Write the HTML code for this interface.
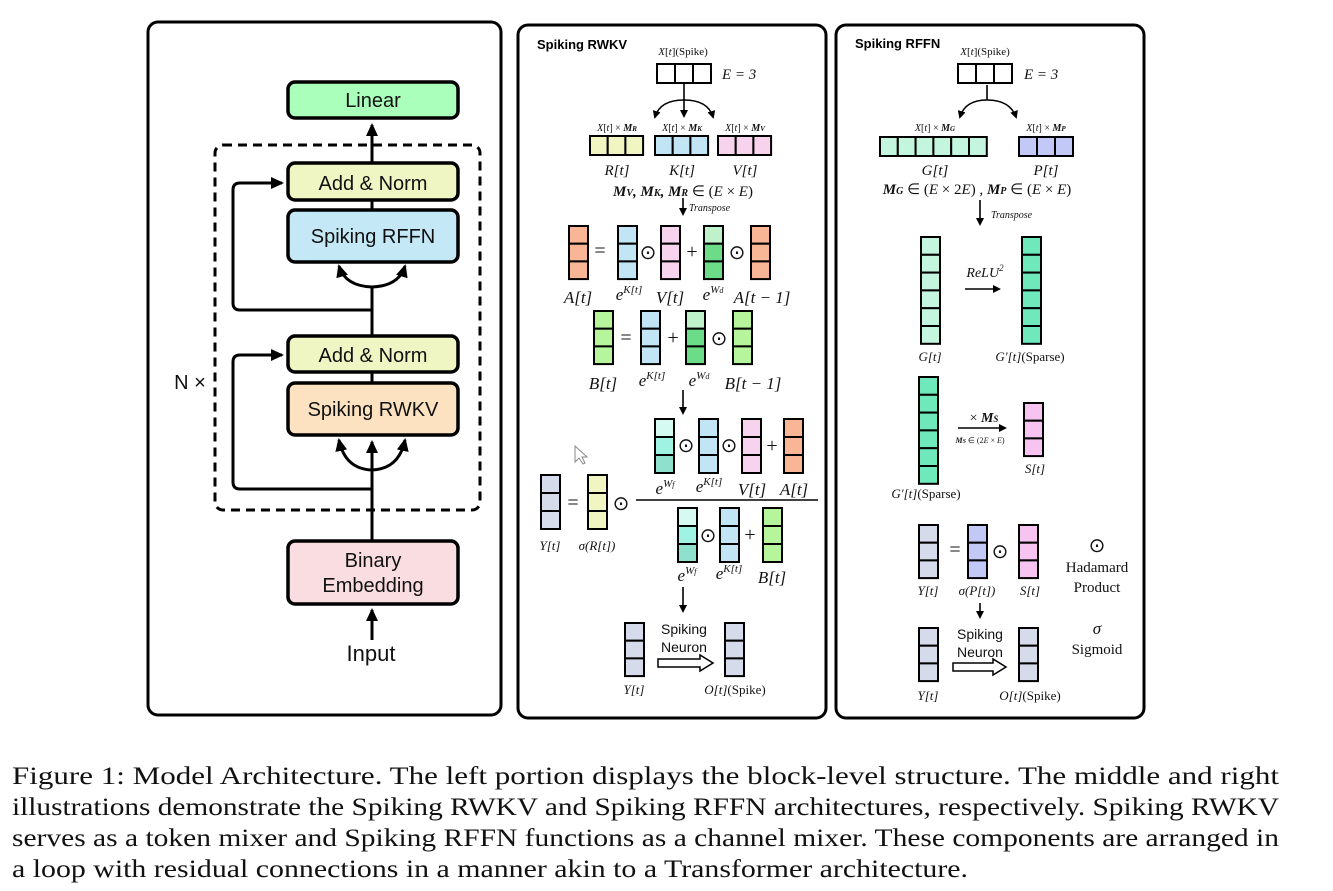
<!DOCTYPE html>
<html><head><meta charset="utf-8"><style>
html,body{margin:0;padding:0;background:#fff;}
svg{display:block;}
.s{font-family:"Liberation Sans",sans-serif;}
.m{font-family:"Liberation Serif",serif;font-style:italic;}
.r{font-family:"Liberation Serif",serif;}
</style></head><body>
<svg id="sv" width="1333" height="891" viewBox="0 0 1333 891" xmlns="http://www.w3.org/2000/svg">
<defs>
<marker id="ah" markerWidth="8" markerHeight="8" refX="6" refY="4" orient="auto" markerUnits="userSpaceOnUse"><path d="M0,0 L8,4 L0,8 z" fill="#000"/></marker>
<marker id="ab" markerWidth="14" markerHeight="14" refX="11" refY="7" orient="auto" markerUnits="userSpaceOnUse"><path d="M0,1 L13,7 L0,13 z" fill="#000"/></marker>
</defs>
<rect x="148" y="22" width="353" height="693" rx="10" fill="none" stroke="#000" stroke-width="3"/>
<rect x="518" y="25" width="308" height="693" rx="10" fill="none" stroke="#000" stroke-width="3"/>
<rect x="836" y="25" width="308" height="693" rx="10" fill="none" stroke="#000" stroke-width="3"/>

<rect x="215" y="145" width="265" height="365" rx="8" fill="none" stroke="#000" stroke-width="3" stroke-dasharray="9,6"/>
<g stroke="#000" stroke-width="3" fill="none">
<line x1="372" y1="163" x2="372" y2="125" marker-end="url(#ab)"/>
<line x1="372" y1="200" x2="372" y2="210"/>
<line x1="372" y1="336" x2="372" y2="287"/>
<line x1="372" y1="372" x2="372" y2="383"/>
<line x1="372" y1="541" x2="372" y2="442" marker-end="url(#ab)"/>
<line x1="372" y1="640" x2="372" y2="610" marker-end="url(#ab)"/>
<path d="M372,287 Q345,286 339,266" marker-end="url(#ab)"/>
<path d="M372,287 Q399,286 405,266" marker-end="url(#ab)"/>
<path d="M372,470 Q345,469 339,440" marker-end="url(#ab)"/>
<path d="M372,470 Q399,469 405,440" marker-end="url(#ab)"/>
<path d="M372,310 L240,310 Q233,310 233,303 L233,190 Q233,183 240,183 L282,183" marker-end="url(#ab)"/>
<path d="M372,489 L240,489 Q233,489 233,482 L233,362 Q233,355 240,355 L282,355" marker-end="url(#ab)"/>
</g>
<g stroke="#000" stroke-width="3.5">
<rect x="288" y="82" width="170" height="36" rx="7" fill="#aaffbb"/>
<rect x="288" y="163" width="170" height="37" rx="7" fill="#f0f5c4"/>
<rect x="288" y="210" width="170" height="52" rx="7" fill="#c4e8f6"/>
<rect x="288" y="336" width="170" height="36" rx="7" fill="#f0f5c4"/>
<rect x="288" y="383" width="170" height="52" rx="7" fill="#fde2c2"/>
<rect x="288" y="541" width="170" height="63" rx="7" fill="#f9dde0"/>
</g>
<g class="s" font-size="20" text-anchor="middle" fill="#111">
<text x="373" y="107">Linear</text>
<text x="373" y="190">Add &amp; Norm</text>
<text x="373" y="243">Spiking RFFN</text>
<text x="373" y="362">Add &amp; Norm</text>
<text x="373" y="416">Spiking RWKV</text>
<text x="373" y="567">Binary</text>
<text x="373" y="592">Embedding</text>
<text x="371" y="661" font-size="22">Input</text>
<text x="190" y="389">N ×</text>
</g>

<g id="cells"></g>

<g stroke="#000" stroke-width="1.6" fill="none">
<line x1="684" y1="84" x2="684" y2="116" marker-end="url(#ah)"/>
<path d="M684,100 Q660,100 655,117" marker-end="url(#ah)"/>
<path d="M684,100 Q708,100 713,117" marker-end="url(#ah)"/>
<line x1="683" y1="198" x2="683" y2="214" marker-end="url(#ah)"/>
<line x1="683" y1="390" x2="683" y2="413" marker-end="url(#ah)"/>
<line x1="636" y1="500" x2="818" y2="500"/>
<line x1="683" y1="587" x2="683" y2="611" marker-end="url(#ah)"/>
<path d="M658,659 L700,659 L700,655 L713,663 L700,671 L700,667 L658,667 z" stroke-width="1.5"/>
<path d="M987,85 L987,100"/>
<path d="M987,100 Q965,100 960,117" marker-end="url(#ah)"/>
<path d="M987,100 Q1010,100 1016,117" marker-end="url(#ah)"/>
<line x1="980" y1="200" x2="980" y2="224" marker-end="url(#ah)"/>
<line x1="965" y1="289" x2="999" y2="289" marker-end="url(#ah)"/>
<line x1="958" y1="428" x2="1005" y2="428" marker-end="url(#ah)"/>
<line x1="980" y1="603" x2="980" y2="617" marker-end="url(#ah)"/>
<path d="M953,663 L993,663 L993,659 L1006,667 L993,675 L993,671 L953,671 z" stroke-width="1.5"/>
</g>
<path d="M575,446 L575,462 L579,458 L583,464 L585,463 L582,457 L587,457 z" fill="#fff" stroke="#888" stroke-width="1"/>

<g class="s" font-weight="bold" font-size="13"><text x="537" y="49">Spiking RWKV</text><text x="855" y="48">Spiking RFFN</text></g>

<g fill="#111">
<text class="r" font-size="11" x="683" y="55" text-anchor="middle"><tspan class="m">X</tspan>[<tspan class="m">t</tspan>](Spike)</text>
<text class="m" font-size="15" x="722" y="79">E = 3</text>
<g class="r" font-size="10" text-anchor="middle">
<text x="617" y="131"><tspan class="m">X</tspan>[<tspan class="m">t</tspan>] × <tspan font-weight="bold" class="m">M<tspan font-size="7">R</tspan></tspan></text>
<text x="682" y="131"><tspan class="m">X</tspan>[<tspan class="m">t</tspan>] × <tspan font-weight="bold" class="m">M<tspan font-size="7">K</tspan></tspan></text>
<text x="745" y="131"><tspan class="m">X</tspan>[<tspan class="m">t</tspan>] × <tspan font-weight="bold" class="m">M<tspan font-size="7">V</tspan></tspan></text>
</g>
<g class="m" font-size="15" text-anchor="middle">
<text x="617" y="175">R[t]</text><text x="682" y="175">K[t]</text><text x="745" y="175">V[t]</text>
</g>
<text class="r" font-size="15" x="683" y="196" text-anchor="middle"><tspan class="m" font-weight="bold">M<tspan font-size="10">V</tspan>, M<tspan font-size="10">K</tspan>, M<tspan font-size="10">R</tspan></tspan> ∈ (<tspan class="m">E</tspan>  × <tspan class="m">E</tspan>)</text>
<text class="m" font-size="10" x="689" y="211">Transpose</text>
<g class="r" font-size="20" text-anchor="middle">
<text x="600" y="257">=</text><text x="648" y="259">⊙</text><text x="692" y="258">+</text><text x="737" y="259">⊙</text>
<text x="626" y="344">=</text><text x="673" y="344">+</text><text x="719" y="345">⊙</text>
<text x="686" y="452">⊙</text><text x="729" y="452">⊙</text><text x="772" y="452">+</text>
<text x="573" y="509">=</text><text x="621" y="510">⊙</text>
<text x="708" y="542">⊙</text><text x="750" y="541">+</text>
</g>
<g class="m" font-size="17" text-anchor="middle">
<text x="578" y="303">A[t]</text><text x="629" y="300">e<tspan font-size="11" dy="-7">K[t]</tspan></text><text x="670" y="303">V[t]</text><text x="713" y="300">e<tspan font-size="11" dy="-7">W<tspan font-size="8">d</tspan></tspan></text><text x="762" y="303">A[t − 1]</text>
<text x="603" y="389">B[t]</text><text x="652" y="386">e<tspan font-size="11" dy="-7">K[t]</tspan></text><text x="699" y="386">e<tspan font-size="11" dy="-7">W<tspan font-size="8">d</tspan></tspan></text><text x="753" y="389">B[t − 1]</text>
<text x="665" y="494">e<tspan font-size="11" dy="-7">W<tspan font-size="8">f</tspan></tspan></text><text x="709" y="492">e<tspan font-size="11" dy="-7">K[t]</tspan></text><text x="752" y="495">V[t]</text><text x="794" y="495">A[t]</text>
<text x="687" y="581">e<tspan font-size="11" dy="-7">W<tspan font-size="8">f</tspan></tspan></text><text x="729" y="579">e<tspan font-size="11" dy="-7">K[t]</tspan></text><text x="772" y="583">B[t]</text>
</g>
<g class="m" font-size="13" text-anchor="middle">
<text x="550" y="550">Y[t]</text><text x="597" y="550">σ(R[t])</text>
<text x="634" y="694">Y[t]</text><text x="735" y="694">O[t]<tspan class="r" font-style="normal">(Spike)</tspan></text>
</g>
<g class="s" font-size="14" text-anchor="middle"><text x="684" y="634">Spiking</text><text x="684" y="652">Neuron</text><text x="980" y="639">Spiking</text><text x="980" y="657">Neuron</text></g>

<text class="r" font-size="11" x="985" y="55" text-anchor="middle"><tspan class="m">X</tspan>[<tspan class="m">t</tspan>](Spike)</text>
<text class="m" font-size="15" x="1024" y="79">E = 3</text>
<g class="r" font-size="10" text-anchor="middle">
<text x="935" y="131"><tspan class="m">X</tspan>[<tspan class="m">t</tspan>] × <tspan font-weight="bold" class="m">M<tspan font-size="7">G</tspan></tspan></text>
<text x="1046" y="131"><tspan class="m">X</tspan>[<tspan class="m">t</tspan>] × <tspan font-weight="bold" class="m">M<tspan font-size="7">P</tspan></tspan></text>
</g>
<g class="m" font-size="15" text-anchor="middle"><text x="935" y="175">G[t]</text><text x="1046" y="175">P[t]</text></g>
<text class="r" font-size="15" x="977" y="194" text-anchor="middle"><tspan class="m" font-weight="bold">M<tspan font-size="10">G</tspan></tspan> ∈ (<tspan class="m">E</tspan>  × 2<tspan class="m">E</tspan>) , <tspan class="m" font-weight="bold">M<tspan font-size="10">P</tspan></tspan> ∈ (<tspan class="m">E</tspan>  × <tspan class="m">E</tspan>)</text>
<text class="m" font-size="10" x="991" y="218">Transpose</text>
<text class="m" font-size="14" x="985" y="277" text-anchor="middle">ReLU<tspan font-size="9" dy="-6">2</tspan></text>
<text class="r" font-size="14" x="984" y="422" text-anchor="middle">× <tspan class="m" font-weight="bold">M<tspan font-size="9">S</tspan></tspan></text>
<text class="r" font-size="8" x="980" y="443" text-anchor="middle"><tspan class="m" font-weight="bold">M<tspan font-size="6">S</tspan></tspan> ∈ (2<tspan class="m">E</tspan>  × <tspan class="m">E</tspan>)</text>
<g class="m" font-size="13" text-anchor="middle">
<text x="930" y="361">G[t]</text><text x="1030" y="361">G′[t]<tspan class="r" font-style="normal">(Sparse)</tspan></text>
<text x="926" y="498">G′[t]<tspan class="r" font-style="normal">(Sparse)</tspan></text>
<text x="1035" y="473">S[t]</text>
<text x="928" y="595">Y[t]</text><text x="977" y="595">σ(P[t])</text><text x="1030" y="595">S[t]</text>
<text x="928" y="700">Y[t]</text><text x="1030" y="700">O[t]<tspan class="r" font-style="normal">(Spike)</tspan></text>
</g>
<g class="r" font-size="20" text-anchor="middle"><text x="955" y="556">=</text><text x="1000" y="558">⊙</text><text x="1097" y="552">⊙</text><text class="m" x="1097" y="634" font-size="17">σ</text></g>
<g class="r" font-size="15" text-anchor="middle"><text x="1097" y="572">Hadamard</text><text x="1097" y="592">Product</text><text x="1097" y="654">Sigmoid</text></g>
</g>

<g class="r" font-size="25" fill="#111">
<text x="12" y="784" textLength="1267" lengthAdjust="spacingAndGlyphs">Figure 1: Model Architecture. The left portion displays the block-level structure. The middle and right</text>
<text x="12" y="815" textLength="1267" lengthAdjust="spacingAndGlyphs">illustrations demonstrate the Spiking RWKV and Spiking RFFN architectures, respectively. Spiking RWKV</text>
<text x="12" y="846" textLength="1267" lengthAdjust="spacingAndGlyphs">serves as a token mixer and Spiking RFFN functions as a channel mixer. These components are arranged in</text>
<text x="12" y="877" textLength="956" lengthAdjust="spacingAndGlyphs">a loop with residual connections in a manner akin to a Transformer architecture.</text>
</g>
</svg>
<script>
var g=document.getElementById('cells'),NS='http://www.w3.org/2000/svg';
function R(x,y,w,h,f){var r=document.createElementNS(NS,'rect');r.setAttribute('x',x);r.setAttribute('y',y);r.setAttribute('width',w);r.setAttribute('height',h);r.setAttribute('fill',f);r.setAttribute('stroke','#000');r.setAttribute('stroke-width','2');g.appendChild(r);}
function col(x,y,fills,h){h=h||17.7;for(var i=0;i<fills.length;i++)R(x,y+i*h,19,h,fills[i]);}
function row(x,y,fills,w,h){w=w||18;h=h||19;for(var i=0;i<fills.length;i++)R(x+i*w,y,w,h,fills[i]);}
var O='#f9b696',K='#c2e5f5',V='#f8d3ee',RR='#f1f5c2',B='#b6f59c',Y='#d6dbec',W=['#bff2cb','#6cdc88','#6cdc88'],F=['#d4faf2','#a0f2e2','#8fe0cc'];
function c3(c){return [c,c,c];}
row(657,64,c3('#fff'));row(590,136,c3(RR),17.7);row(655,136,c3(K),17.7);row(718,136,c3(V),17.7);
col(569,226,c3(O));col(618,226,c3(K));col(661,226,c3(V));col(704,226,W);col(751,226,c3(O));
col(594,311,c3(B));col(641,311,c3(K));col(686,311,W);col(733,311,c3(B));
col(655,419,F,18);col(699,419,c3(K),18);col(742,419,c3(V),18);col(784,419,c3(O),18);
col(541,475,c3(Y),18);col(588,475,c3(RR),18);
col(678,508,F,18);col(720,508,c3(K),18);col(763,508,c3(B),18);
col(625,623,c3(Y));col(725,623,c3(Y));
row(958,64,c3('#fff'));
var G='#c4f5de',GP='#6fe8bb',P='#c2c9f7',S='#f7c4f2';
row(880,137,[G,G,G,G,G,G],17.8,19);row(1019,137,c3(P),18,19);
col(921,237,[G,G,G,G,G,G],17.8);col(1022,237,[GP,GP,GP,GP,GP,GP],17.8);
col(919,377,[GP,GP,GP,GP,GP,GP],17.8);col(1024,403,c3(S));
col(919,525,c3(Y));col(968,525,c3(P));col(1019,525,c3(S));
col(919,628,c3(Y));col(1019,628,c3(Y));
</script>
</body></html>
